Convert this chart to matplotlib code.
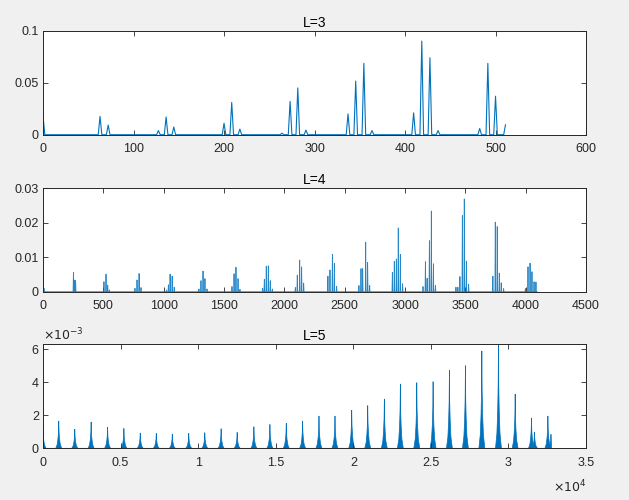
import matplotlib
matplotlib.use("Agg")
import matplotlib.pyplot as plt

# L=3: sub-peak positions (sample index) and heights
L3_POS = [0, 63, 72, 127.5, 136, 144.5, 200, 208.5, 217.5, 264, 273, 281.5, 290.5,
          337, 345.5, 354.5, 363.5, 409.5, 418.5, 427.5, 436.5, 482.5, 491.5, 500, 511]
L3_VAL = [0.018, 0.0176, 0.0093, 0.004, 0.017, 0.0074, 0.011, 0.031, 0.0054, 0.0015,
          0.032, 0.045, 0.0045, 0.020, 0.0516, 0.0686, 0.004, 0.021, 0.090, 0.074,
          0.004, 0.006, 0.0686, 0.037, 0.0095]
L3_END = 511

# L=4: sub-peak positions and heights, cluster by cluster
L4_POS = [0, 8,
          252, 262, 270,
          505, 522, 536, 550,
          762, 779, 796, 812,
          1023, 1039, 1053, 1070, 1087,
          1292, 1309, 1326, 1342, 1359,
          1566, 1583, 1599, 1616, 1632,
          1820, 1834, 1850, 1867, 1883, 1900,
          2091, 2107, 2127, 2143, 2160,
          2361, 2378, 2398, 2414, 2433,
          2618, 2635, 2649, 2674, 2690, 2707,
          2895, 2911, 2928, 2944, 2961, 2980,
          3149, 3169, 3183, 3202, 3218, 3235, 3252,
          3422, 3438, 3455, 3475, 3491, 3508, 3527,
          3728, 3748, 3764, 3781, 3797, 3817,
          3997, 4019, 4036, 4052, 4069, 4085]
L4_VAL = [0.0051, 0.001,
          0.0056, 0.0034, 0.0032,
          0.0029, 0.0051, 0.0019, 0.0005,
          0.001, 0.0034, 0.0053, 0.0012,
          0.0005, 0.002, 0.0051, 0.0045, 0.0013,
          0.0008, 0.0032, 0.006, 0.0038, 0.0008,
          0.0015, 0.0052, 0.0071, 0.0038, 0.0007,
          0.001, 0.0036, 0.0074, 0.0075, 0.0032, 0.0008,
          0.0012, 0.0048, 0.0092, 0.0072, 0.0025,
          0.0045, 0.0063, 0.0108, 0.0082, 0.0016,
          0.0018, 0.0067, 0.0067, 0.0144, 0.0085, 0.0018,
          0.0056, 0.0088, 0.0095, 0.0185, 0.0108, 0.0023,
          0.0015, 0.0087, 0.0039, 0.0148, 0.0234, 0.0081, 0.0018,
          0.0013, 0.0013, 0.0044, 0.0221, 0.0269, 0.0089, 0.0022,
          0.0045, 0.0202, 0.0189, 0.0054, 0.0026, 0.0009,
          0.0009, 0.0072, 0.0083, 0.0058, 0.0029, 0.0028]
L4_END = 4095

# L=5: cluster centres and peak heights (x1e-3)
L5_POS = [0, 1014, 2047, 3101, 4160, 5213, 6266, 7300, 8333, 9393, 10427, 11479,
          12513, 13592, 14625, 15678, 16731, 17787, 18819, 19897, 20929, 22000,
          23032, 24090, 25142, 26194, 27226, 28284, 29355, 30432, 31484, 31677,
          32542, 32740]
L5_VAL = [1.31, 1.66, 1.17, 1.60, 1.29, 1.21, 0.93, 0.91, 0.87, 0.91, 0.95, 1.19,
          0.97, 1.31, 1.45, 1.52, 1.66, 1.96, 1.96, 2.32, 2.59, 2.99,
          3.90, 3.98, 4.04, 4.73, 5.01, 5.90, 6.40, 3.29, 1.84, 0.99,
          1.96, 0.85]
L5_END = 32768

BLUE = "#0072BD"
INK = "#262626"


def spike_line(pos, val, half, xend):
    xs, ys = [0], [0]
    for c, h in zip(pos, val):
        if c + half > xend:
            xs += [max(c - half, xs[-1]), xend]
            ys += [0, h]
        else:
            xs += [c - half, c, c + half]
            ys += [0, h, 0]
    if xs[-1] < xend and ys[-1] == 0:
        xs.append(xend)
        ys.append(0)
    return xs, ys


def style(ax, xt, xlim, yt, ylim, title):
    ax.set_xlim(*xlim)
    ax.set_ylim(*ylim)
    ax.set_xticks(xt)
    ax.set_yticks(yt)
    ax.tick_params(direction="in", top=True, right=True, length=3.5, width=0.6,
                   colors=INK, labelsize=9)
    ax.tick_params(axis="x", pad=6)
    ax.tick_params(axis="y", pad=3)
    for s in ax.spines.values():
        s.set_color(INK)
        s.set_linewidth(0.7)
    ax.set_title(title, fontsize=10, color="black", pad=3)


plt.rcParams["font.family"] = ["Liberation Sans", "DejaVu Sans"]
fig = plt.figure(figsize=(6.29, 5.0), dpi=100, facecolor="#f0f0f0")

# L=3
ax1 = fig.add_axes([0.0684, 0.7306, 0.8633, 0.208])
x3, y3 = spike_line(L3_POS, L3_VAL, 2, L3_END)
ax1.plot(x3, y3, color=BLUE, lw=0.8)
style(ax1, range(0, 601, 100), (0, 600), [0, 0.05, 0.1], (0, 0.1), "L=3")
ax1.set_yticklabels(["0", "0.05", "0.1"])

# L=4
ax2 = fig.add_axes([0.0684, 0.4166, 0.8633, 0.2068])
x4, y4 = spike_line(L4_POS, L4_VAL, 3, L4_END)
ax2.plot(x4, y4, color=BLUE, lw=0.6, alpha=0.85)
style(ax2, range(0, 4501, 500), (0, 4500), [0, 0.01, 0.02, 0.03], (0, 0.03), "L=4")
ax2.set_yticklabels(["0", "0.01", "0.02", "0.03"])

# L=5
ax3 = fig.add_axes([0.0684, 0.1034, 0.8633, 0.208])
ax3.plot([0, L5_END], [0, 0], color=BLUE, lw=0.8)
for c, h in zip(L5_POS, L5_VAL):
    h = h * 1e-3
    xs = [c - 190, c - 100, c - 50, c - 18, c, c + 18, c + 50, c + 100, c + 190]
    ys = [0, 0.14 * h, 0.35 * h, 0.6 * h, h, 0.6 * h, 0.35 * h, 0.14 * h, 0]
    xs = [min(v, L5_END) for v in xs]
    ax3.fill(xs, ys, color=BLUE, lw=0.5)
style(ax3, [i * 5000 for i in range(8)], (0, 35000), [0, 0.002, 0.004, 0.006],
      (0, 0.0063), "L=5")
ax3.set_xticklabels(["0", "0.5", "1", "1.5", "2", "2.5", "3", "3.5"])
ax3.set_yticklabels(["0", "2", "4", "6"])
ax3.text(0.0, 1.005, r"$\times10^{-3}$", transform=ax3.transAxes, ha="left",
         va="bottom", fontsize=9, color=INK)
ax3.text(1.0, -0.29, r"$\times10^{4}$", transform=ax3.transAxes, ha="right",
         va="top", fontsize=9, color=INK)

fig.savefig("out.png", dpi=100, facecolor=fig.get_facecolor())
